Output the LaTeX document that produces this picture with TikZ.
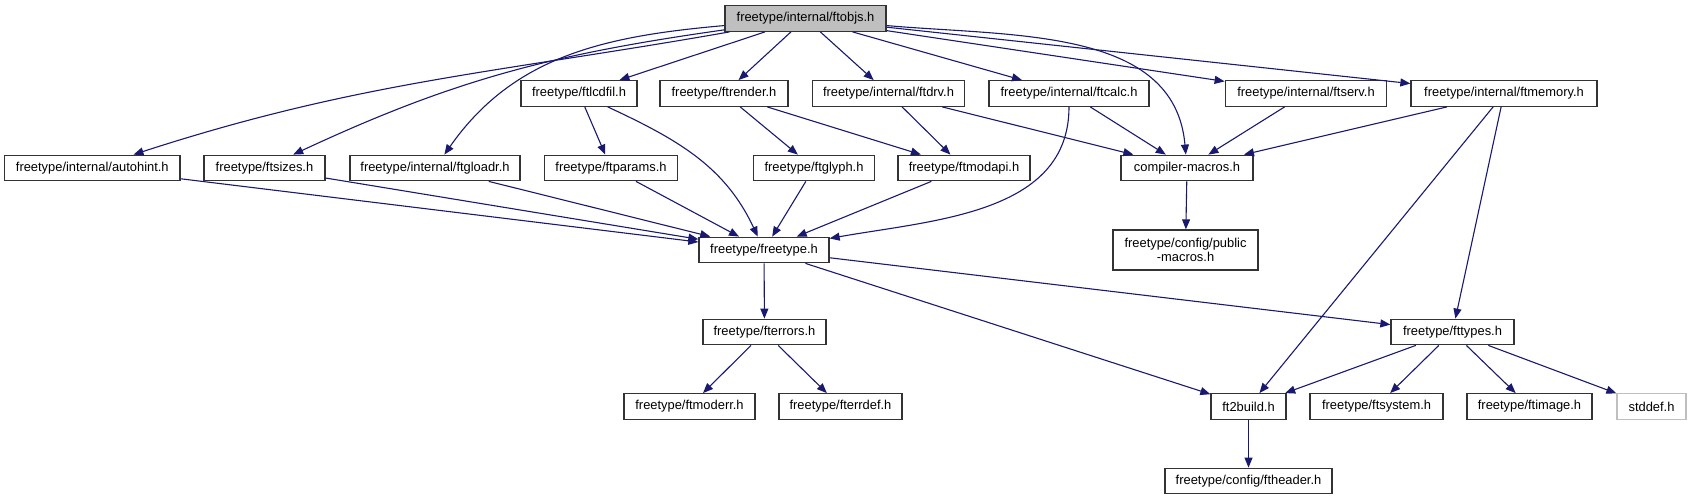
\documentclass[tikz,border=0pt]{standalone}
\usepackage{fontspec}
\setmainfont{Liberation Sans}
\usetikzlibrary{arrows.meta}
\definecolor{cedge}{HTML}{191970}
\definecolor{cgrey}{HTML}{BFBFBF}
\definecolor{cframe}{HTML}{333333}
\tikzset{
  every picture/.style={font=\fontsize{12.9}{14.5}\selectfont, line width=1.1pt},
  hdr/.style={draw=cframe, fill=white, line width=1.3pt, minimum width=#1, minimum height=25.5pt, inner sep=0pt},
  hdr/.default=120pt,
  inc/.style={-{Triangle[length=10pt,width=8pt]}, draw=cedge, line width=1.1pt},
}

\begin{document}
\begin{tikzpicture}[x=1pt, y=1pt]
  \useasboundingbox (0,0) rectangle (1691,500);
  % rows from the top: ftobjs.h, its direct includes, then the rest
  \node[hdr=161pt, fill=cgrey] (ftobjs) at (805.5,481.5) {freetype/internal/ftobjs.h};
  \node[hdr=116pt] (ftlcdfil) at (579,406.5) {freetype/ftlcdfil.h};
  \node[hdr=128pt] (ftrender) at (724,406.5) {freetype/ftrender.h};
  \node[hdr=152pt] (ftdrv) at (888.5,406.5) {freetype/internal/ftdrv.h};
  \node[hdr=160pt] (ftcalc) at (1069,406.5) {freetype/internal/ftcalc.h};
  \node[hdr=161.5pt] (ftserv) at (1306,406.5) {freetype/internal/ftserv.h};
  \node[hdr=186pt] (ftmemory) at (1504,406.5) {freetype/internal/ftmemory.h};
  \node[hdr=175.4pt] (autohint) at (92.3,332) {freetype/internal/autohint.h};
  \node[hdr=121pt] (ftsizes) at (264.5,332) {freetype/ftsizes.h};
  \node[hdr=170pt] (ftgloadr) at (435,332) {freetype/internal/ftgloadr.h};
  \node[hdr=133.5pt] (ftparams) at (611,332) {freetype/ftparams.h};
  \node[hdr=121.5pt] (ftglyph) at (814,332) {freetype/ftglyph.h};
  \node[hdr=132pt] (ftmodapi) at (964,332) {freetype/ftmodapi.h};
  \node[hdr=132pt] (compmacros) at (1187,332) {compiler-macros.h};
  \node[hdr=130pt] (freetype) at (764,250) {freetype/freetype.h};
  \node[hdr=145pt, minimum height=40pt, align=center] (pubmacros) at (1185.5,250) {freetype/config/public\\-macros.h};
  \node[hdr=123pt] (fterrors) at (764.5,168) {freetype/fterrors.h};
  \node[hdr=123pt] (fttypes) at (1452.5,168) {freetype/fttypes.h};
  \node[hdr=131pt] (ftmoderr) at (689.5,93.5) {freetype/ftmoderr.h};
  \node[hdr=123pt] (fterrdef) at (840.5,93.5) {freetype/fterrdef.h};
  \node[hdr=75pt] (ftbuild) at (1248.5,93.5) {ft2build.h};
  \node[hdr=133pt] (ftsystem) at (1376.5,93.5) {freetype/ftsystem.h};
  \node[hdr=125pt] (ftimage) at (1529.5,93.5) {freetype/ftimage.h};
  \node[hdr=69pt, draw=cgrey] (stddef) at (1651.5,93.5) {stddef.h};
  \node[hdr=167pt] (ftheader) at (1248.5,19) {freetype/config/ftheader.h};
  % includes
  \draw[inc] (ftobjs) to[out=190, in=18] (autohint);
  \draw[inc] (ftobjs) to[out=188, in=25] (ftsizes);
  \draw[inc] (ftobjs) to[out=185, in=55] (ftgloadr);
  \draw[inc] (ftobjs) -- (ftlcdfil);
  \draw[inc] (ftobjs) -- (ftrender);
  \draw[inc] (ftobjs) -- (ftdrv);
  \draw[inc] (ftobjs) -- (ftcalc);
  \draw[inc] (ftobjs) to[out=-5, in=95] (compmacros);
  \draw[inc] (ftobjs) -- (ftserv);
  \draw[inc] (ftobjs) -- (ftmemory);
  \draw[inc] (ftlcdfil) -- (ftparams);
  \draw[inc] (ftlcdfil) to[out=-25, in=115] (freetype);
  \draw[inc] (ftrender) -- (ftglyph);
  \draw[inc] (ftrender) -- (ftmodapi);
  \draw[inc] (ftdrv) -- (ftmodapi);
  \draw[inc] (ftdrv) -- (compmacros);
  \draw[inc] (ftcalc) -- (compmacros);
  \draw[inc] (ftcalc) to[out=-90, in=10] (freetype);
  \draw[inc] (ftserv) -- (compmacros);
  \draw[inc] (ftmemory) -- (compmacros);
  \draw[inc] (ftmemory) -- (ftbuild);
  \draw[inc] (ftmemory) -- (fttypes);
  \foreach \src in {autohint, ftsizes, ftgloadr, ftparams, ftglyph, ftmodapi}
    \draw[inc] (\src) -- (freetype);
  \draw[inc] (compmacros) -- (pubmacros);
  \draw[inc] (freetype) -- (fterrors);
  \draw[inc] (freetype) -- (ftbuild);
  \draw[inc] (freetype) -- (fttypes);
  \draw[inc] (fterrors) -- (ftmoderr);
  \draw[inc] (fterrors) -- (fterrdef);
  \foreach \dst in {ftbuild, ftsystem, ftimage, stddef}
    \draw[inc] (fttypes) -- (\dst);
  \draw[inc] (ftbuild) -- (ftheader);
\end{tikzpicture}
\end{document}
